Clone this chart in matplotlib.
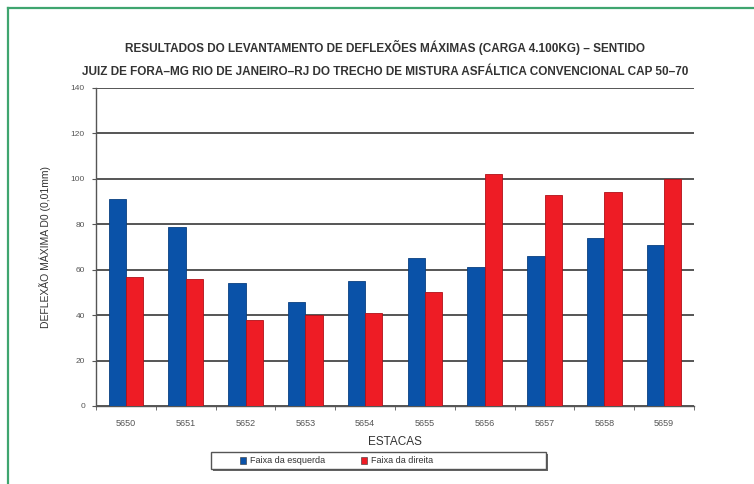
import matplotlib
matplotlib.use("Agg")
import matplotlib.pyplot as plt
import numpy as np
from matplotlib.patches import Rectangle
from matplotlib.lines import Line2D

plt.rcParams['font.family'] = ['Liberation Sans Narrow', 'Liberation Sans', 'DejaVu Sans']

estacas = ["5650", "5651", "5652", "5653", "5654", "5655", "5656", "5657", "5658", "5659"]
faixa_esquerda = [91, 79, 54, 46, 55, 65, 61, 66, 74, 71]
faixa_direita = [57, 56, 38, 40, 41, 50, 102, 93, 94, 100]

titulo = ("RESULTADOS DO LEVANTAMENTO DE DEFLEXÕES MÁXIMAS (CARGA 4.100KG) – SENTIDO\n"
          "JUIZ DE FORA–MG RIO DE JANEIRO–RJ DO TRECHO DE MISTURA ASFÁLTICA CONVENCIONAL CAP 50–70")
y_label = "DEFLEXÃO MÁXIMA D0 (0,01mm)"
x_label = "ESTACAS"
legend_labels = ["Faixa da esquerda", "Faixa da direita"]

W, H = 754, 484
fig = plt.figure(figsize=(W / 100, H / 100), dpi=100)
fig.patch.set_facecolor("white")

# outer frame (left and top edges)
fig.add_artist(Line2D([7.5 / W, 7.5 / W], [0, 1 - 7.5 / H], transform=fig.transFigure,
                      color="#3fa56f", lw=1.6))
fig.add_artist(Line2D([7.5 / W, 1], [1 - 7.5 / H, 1 - 7.5 / H], transform=fig.transFigure,
                      color="#3fa56f", lw=1.6))

ax_l, ax_r, ax_t, ax_b = 96, 694, 88, 406
ax = fig.add_axes([ax_l / W, 1 - ax_b / H, (ax_r - ax_l) / W, (ax_b - ax_t) / H])

x = np.arange(len(estacas))
bw = 0.29
ax.bar(x - bw / 2, faixa_esquerda, bw, color="#0a52a8", edgecolor="#0a3f80", lw=0.6, zorder=3)
ax.bar(x + bw / 2, faixa_direita, bw, color="#ee1c25", edgecolor="#b01018", lw=0.6, zorder=3)

ax.set_xlim(-0.5, len(estacas) - 0.5)
ax.set_ylim(0, 140)
ax.set_yticks(np.arange(0, 141, 20))
ax.yaxis.grid(True, color="#555555", lw=1.4, zorder=1)
ax.set_axisbelow(True)
for s in ["top", "right"]:
    ax.spines[s].set_visible(False)
ax.spines["left"].set_color("#555555")
ax.spines["bottom"].set_color("#555555")
ax.spines["left"].set_linewidth(1.0)
ax.spines["bottom"].set_linewidth(1.0)

ax.set_xticks(x)
ax.set_xticklabels(estacas, fontsize=6.5, color="#555555")
ax.set_xticks(np.arange(-0.5, len(estacas)), minor=True)
ax.tick_params(axis="x", which="major", length=0, pad=9)
ax.tick_params(axis="x", which="minor", length=3, color="#555555")
ax.tick_params(axis="y", labelsize=6, labelcolor="#555555", length=3, color="#555555", pad=5)

ax.set_xlabel(x_label, fontsize=8.5, color="#333333", labelpad=6)
ax.set_ylabel(y_label, fontsize=7.5, color="#333333", labelpad=14)

fig.text(385 / W, 1 - 59 / H, titulo, ha="center", va="center", fontsize=8.5,
         color="#333333", fontweight="bold", linespacing=2.3)

# legend box with drop shadow
lx0, lx1, ly0, ly1 = 211, 546, 452, 469
fig.add_artist(Rectangle((lx0 / W + 2 / W, 1 - ly1 / H - 2 / H), (lx1 - lx0) / W, (ly1 - ly0) / H,
                         transform=fig.transFigure, facecolor="#666666", edgecolor="none"))
fig.add_artist(Rectangle((lx0 / W, 1 - ly1 / H), (lx1 - lx0) / W, (ly1 - ly0) / H,
                         transform=fig.transFigure, facecolor="white", edgecolor="#555555", lw=1.0))
for cx, col, lab in [(243, "#0a52a8", legend_labels[0]), (364, "#ee1c25", legend_labels[1])]:
    fig.add_artist(Rectangle(((cx - 3) / W, 1 - 464 / H), 6 / W, 7 / H, transform=fig.transFigure,
                             facecolor=col, edgecolor="#333333", lw=0.4))
    fig.text((cx + 7) / W, 1 - 460.5 / H, lab, ha="left", va="center", fontsize=6.5, color="#333333")

fig.savefig("out.png", dpi=100, facecolor="white")
